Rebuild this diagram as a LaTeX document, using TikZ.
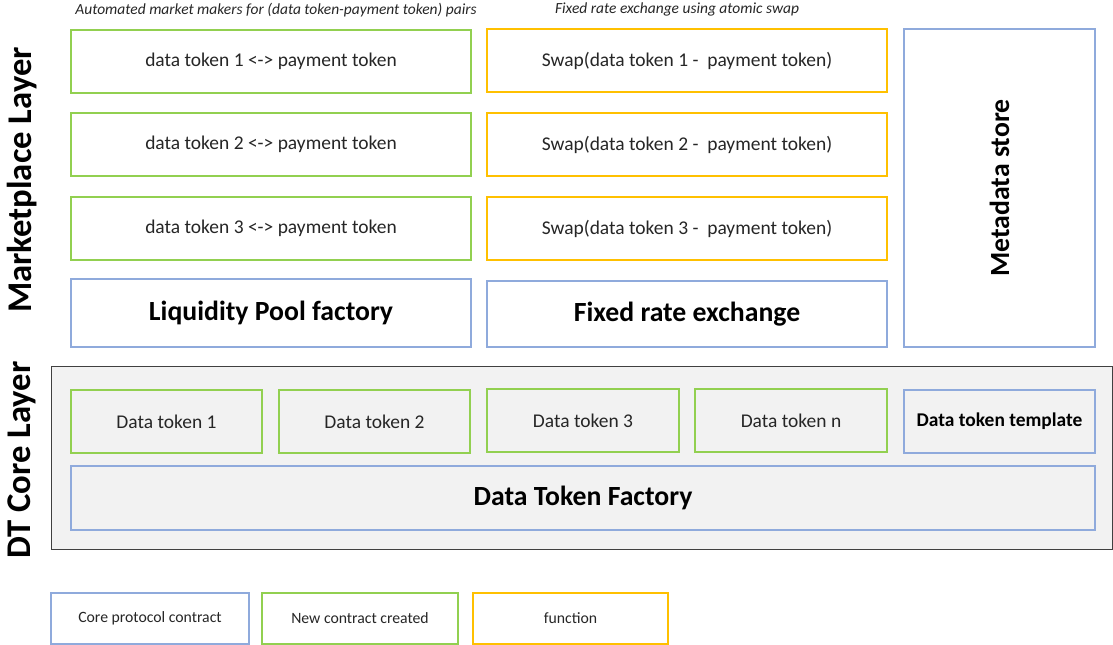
\documentclass[tikz,border=0pt]{standalone}
\usepackage{fontspec}
\setmainfont{Carlito}
\begin{document}
\begin{tikzpicture}[x=0.75pt,y=-0.75pt,
  wd/.style={minimum width=#1*0.75pt},
  ht/.style={minimum height=#1*0.75pt},
  box/.style={draw, line width=1.5pt, fill=white, inner sep=0pt, anchor=north west},
  corebox/.style={box, draw=coreblue},
  newbox/.style={box, draw=newgreen},
  fnbox/.style={box, draw=fnorange},
  txt/.style={font=\fontsize{14.6}{17}\selectfont, text=black!85},
  big/.style={font=\fontsize{20.8}{24}\selectfont\bfseries},
  layer/.style={font=\fontsize{26}{30}\selectfont\bfseries, rotate=90},
  caption/.style={font=\fontsize{11.6}{13}\selectfont\itshape, text=black!85},
  legend/.style={font=\fontsize{11.8}{13}\selectfont, text=black!85}]
\definecolor{coreblue}{HTML}{8FAADC}
\definecolor{newgreen}{HTML}{92D050}
\definecolor{fnorange}{HTML}{FFC000}
\definecolor{panelgray}{HTML}{F2F2F2}
\useasboundingbox (0,0) rectangle (1113,645);

% layer titles
\node[layer] (mkt) at (22,180) {Marketplace Layer};
\node[layer] (core) at (22,460) {DT Core Layer};

% captions above the columns
\node[caption] (capamm) at (276,10) {Automated market makers for (data token-payment token) pairs};
\node[caption] (capfre) at (677,9) {Fixed rate exchange using atomic swap};

% marketplace layer: pools
\node[newbox, wd=400, ht=63, txt] (p1) at (70,29) {data token 1 <-> payment token};
\node[newbox, wd=400, ht=63, txt] (p2) at (70,112) {data token 2 <-> payment token};
\node[newbox, wd=400, ht=63, txt] (p3) at (70,196) {data token 3 <-> payment token};
\node[corebox, wd=400, ht=68, big] (lpf) at (70,278) {Liquidity Pool factory};

% marketplace layer: swaps
\node[fnbox, wd=400, ht=63, txt] (s1) at (486,28) {Swap(data token 1 -\ \ payment token)};
\node[fnbox, wd=400, ht=63, txt] (s2) at (486,112) {Swap(data token 2 -\ \ payment token)};
\node[fnbox, wd=400, ht=63, txt] (s3) at (486,196) {Swap(data token 3 -\ \ payment token)};
\node[corebox, wd=400, ht=66, big] (fre) at (486,280) {Fixed rate exchange};

% metadata store
\node[corebox, wd=191, ht=318] (meta) at (903,28) {};
\node[big, rotate=90] (metat) at (meta.center) {Metadata store};

% DT core layer panel
\node[draw=black!75, line width=0.8pt, fill=panelgray, anchor=north west, wd=1061, ht=183, inner sep=0pt] (panel) at (51,366) {};
\node[newbox, fill=panelgray, wd=191, ht=63, txt] (d1) at (70,389) {Data token 1};
\node[newbox, fill=panelgray, wd=191, ht=63, txt] (d2) at (278,389) {Data token 2};
\node[newbox, fill=panelgray, wd=192, ht=63, txt] (d3) at (486,388) {Data token 3};
\node[newbox, fill=panelgray, wd=192, ht=63, txt] (dn) at (694,388) {Data token n};
\node[corebox, fill=panelgray, wd=191, ht=63, font=\fontsize{14.6}{17}\selectfont\bfseries, text=black] (tpl) at (903,389) {Data token template};
\node[corebox, fill=panelgray, wd=1024, ht=64, big] (dtf) at (70,465) {Data Token Factory};

% legend
\node[corebox, wd=198, ht=51, legend] (lg1) at (50,592) {Core protocol contract};
\node[newbox, wd=196, ht=51, legend] (lg2) at (261,592) {New contract created};
\node[fnbox, wd=195, ht=51, legend] (lg3) at (472,592) {function};
\end{tikzpicture}
\end{document}
